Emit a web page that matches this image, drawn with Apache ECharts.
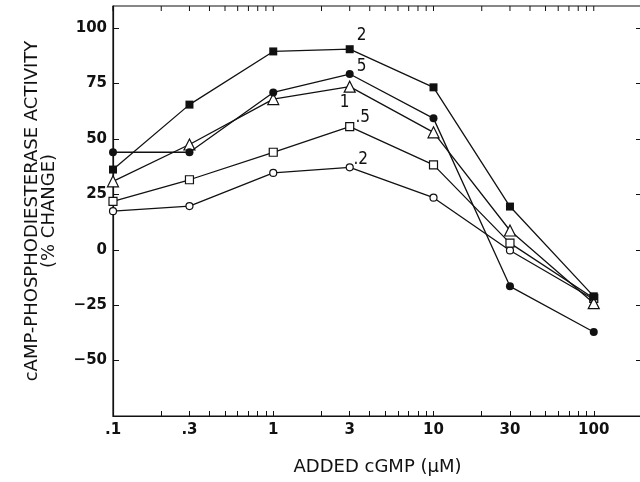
<!DOCTYPE html>
<html>
<head>
<meta charset="utf-8">
<script src="https://cdn.jsdelivr.net/npm/echarts@6/dist/echarts.min.js"></script>
<style>
  html, body { margin: 0; padding: 0; background: #fff; }
  #chart { width: 640px; height: 482px; }
</style>
</head>
<body>
<div id="chart"></div>
<script>
// Added cGMP concentrations (µM)
const doses = [0.1, 0.3, 1, 3, 10, 30, 100];

// Curve names, written next to each curve at 3 µM
const curveNames = ['2', '5', '1', '.5', '.2'];

// Activity change (%) for each curve
const filledSquare = [36.2, 65.5, 89.5, 90.5, 73.3, 19.5, -21.0];
const filledCircle = [44.0, 44.0, 71.0, 79.3, 59.3, -16.5, -37.1];
const openTriangle = [30.9, 47.5, 68.0, 73.6, 53.0, 8.7, -24.1];
const openSquare   = [21.8, 31.6, 44.0, 55.6, 38.3, 3.0, -21.9];
const openCircle   = [17.4, 19.7, 34.7, 37.2, 23.5, -0.3, -22.3];

// Axis ticks
const xLabelValues = [0.1, 0.3, 1, 3, 10, 30, 100];
const xLabelTexts  = ['.1', '.3', '1', '3', '10', '30', '100'];
const xTickValues  = [0.1, 0.2, 0.3, 0.4, 0.5, 0.6, 0.7, 0.8, 0.9,
                      1, 2, 3, 4, 5, 6, 7, 8, 9,
                      10, 20, 30, 40, 50, 60, 70, 80, 90,
                      100, 200];
const yTickValues  = [-50, -25, 0, 25, 50, 75, 100];
const yTickTexts   = ['\u221250', '\u221225', '0', '25', '50', '75', '100'];

const X_MIN = 0.1, X_MAX = 200;
const Y_MIN = -75, Y_MAX = 110;
const INK = '#111';
const labelFont = 'DejaVu Sans, sans-serif';
const noteFont = '"Liberation Sans Narrow", "DejaVu Sans Condensed", sans-serif';

// marker style and name-label offset for each curve
const curveStyles = [
  { values: filledSquare, symbol: 'rect',     size: 8,  fill: INK,    offset: [12, -14] },
  { values: filledCircle, symbol: 'circle',   size: 8,  fill: INK,    offset: [12, -7] },
  { values: openTriangle, symbol: 'triangle', size: 11, fill: '#fff', offset: [-5, 16] },
  { values: openSquare,   symbol: 'rect',     size: 8,  fill: '#fff', offset: [13, -9] },
  { values: openCircle,   symbol: 'circle',   size: 7,  fill: '#fff', offset: [11, -8] }
];

const series = curveStyles.map((c, k) => ({
  name: curveNames[k],
  type: 'line',
  symbol: c.symbol,
  symbolSize: c.size,
  showAllSymbol: true,
  lineStyle: { color: INK, width: 1.3 },
  itemStyle: { color: c.fill, borderColor: INK, borderWidth: c.fill === INK ? 0 : 1.2 },
  z: 10 - k,
  data: doses.map((d, i) => {
    const item = { value: [d, c.values[i]] };
    if (d === 3) {
      item.label = {
        show: true,
        position: 'inside',
        offset: c.offset,
        formatter: '{a}',
        color: INK,
        fontFamily: noteFont,
        fontSize: 17
      };
    }
    return item;
  })
}));

// inward log ticks hanging from the top edge of the frame
series.push({
  type: 'custom',
  silent: true,
  clip: false,
  z: 1,
  data: xTickValues.map(v => [v, Y_MAX]),
  renderItem: (params, api) => {
    const p = api.coord([api.value(0), api.value(1)]);
    return {
      type: 'line',
      shape: { x1: p[0], y1: p[1], x2: p[0], y2: p[1] + 5 },
      style: { stroke: INK, lineWidth: 1 }
    };
  }
});

const option = {
  backgroundColor: '#fff',
  animation: false,
  grid: {
    left: 113, top: 6, width: 529, height: 410,
    containLabel: false, outerBoundsMode: 'none',
    show: true, borderColor: INK, borderWidth: 1.2, backgroundColor: 'transparent'
  },
  xAxis: {
    type: 'log',
    logBase: 10,
    min: X_MIN,
    max: X_MAX,
    position: 'bottom',
    splitLine: { show: false },
    minorTick: { show: false },
    axisLine: { show: true, onZero: false, lineStyle: { color: INK, width: 1.2 } },
    axisTick: { show: true, inside: true, length: 5, customValues: xTickValues,
                lineStyle: { color: INK, width: 1 } },
    name: 'ADDED cGMP (\u00b5M)',
    nameLocation: 'middle',
    nameGap: 42,
    nameTextStyle: { color: INK, fontFamily: labelFont, fontSize: 18 },
    axisLabel: {
      show: true,
      customValues: xLabelValues,
      formatter: v => xLabelTexts[xLabelValues.indexOf(v)],
      color: INK, fontFamily: labelFont, fontSize: 15, fontWeight: 'bold', margin: 7
    }
  },
  yAxis: [
    {
      type: 'value',
      min: Y_MIN,
      max: Y_MAX,
      position: 'left',
      splitLine: { show: false },
      axisLine: { show: true, onZero: false, lineStyle: { color: INK, width: 1.2 } },
      axisTick: { show: true, inside: true, length: 6, customValues: yTickValues,
                  lineStyle: { color: INK, width: 1 } },
      name: 'cAMP-PHOSPHODIESTERASE ACTIVITY\n(% CHANGE)',
      nameLocation: 'middle',
      nameGap: 55,
      nameRotate: 90,
      nameTextStyle: { color: INK, fontFamily: labelFont, fontSize: 18, lineHeight: 17 },
      axisLabel: {
        show: true,
        customValues: yTickValues,
        formatter: v => yTickTexts[yTickValues.indexOf(v)],
        color: INK, fontFamily: labelFont, fontSize: 15, fontWeight: 'bold', margin: 6
      }
    },
    {
      type: 'value',
      min: Y_MIN,
      max: Y_MAX,
      position: 'right',
      splitLine: { show: false },
      axisLine: { show: true, onZero: false, lineStyle: { color: INK, width: 1.2 } },
      axisTick: { show: true, inside: true, length: 6, customValues: yTickValues,
                  lineStyle: { color: INK, width: 1 } },
      axisLabel: { show: false }
    }
  ],
  series: series
};

const chart = echarts.init(document.getElementById('chart'), null, { renderer: 'canvas' });
chart.setOption(option);
</script>
</body>
</html>
